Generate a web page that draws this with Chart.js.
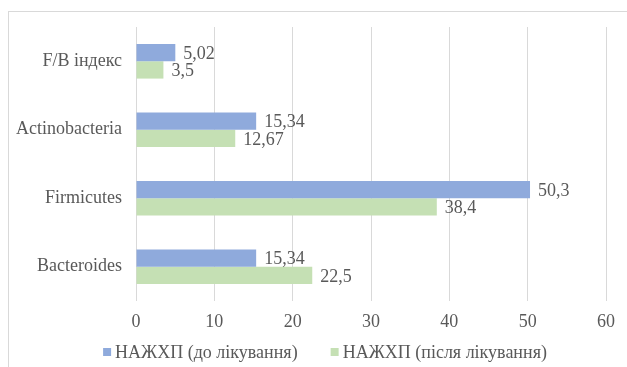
<!DOCTYPE html>
<html>
<head>
<meta charset="utf-8">
<script src="https://cdn.jsdelivr.net/npm/chart.js@4/dist/chart.umd.min.js"></script>
<style>
  html, body { margin: 0; padding: 0; background: #fff; }
  #wrap { position: relative; width: 627px; height: 367px; overflow: hidden; }
  #frame { position: absolute; left: 8px; top: 11px; width: 640px; height: 380px; border: 1px solid #d9d9d9; }
  canvas { position: absolute; left: 0; top: 0; }
</style>
</head>
<body>
<div id="wrap">
  <div id="frame"></div>
  <canvas id="chart" width="627" height="367"></canvas>
</div>
<script>
// Chart data
const categories = ["F/B індекс", "Actinobacteria", "Firmicutes", "Bacteroides"];
const beforeLabel = "НАЖХП (до лікування)";
const afterLabel = "НАЖХП (після лікування)";
const beforeValues = [5.02, 15.34, 50.3, 15.34];
const afterValues = [3.5, 12.67, 38.4, 22.5];
const xTicks = [0, 10, 20, 30, 40, 50, 60];

const FONT = "'Liberation Serif', 'Times New Roman', serif";
const TEXT = "#595959";

// draws value labels right of each bar, with comma decimals
const valueLabels = {
  id: "valueLabels",
  afterDatasetsDraw(chart) {
    const ctx = chart.ctx;
    ctx.save();
    ctx.font = "18px " + FONT;
    ctx.fillStyle = TEXT;
    ctx.textAlign = "left";
    ctx.textBaseline = "middle";
    chart.data.datasets.forEach((ds, i) => {
      chart.getDatasetMeta(i).data.forEach((bar, j) => {
        const txt = String(ds.data[j]).replace(".", ",");
        ctx.fillText(txt, bar.x + 8, bar.y + 1.5);
      });
    });
    ctx.restore();
  },
};

// excel-like legend at the bottom, centred on the chart frame
const bottomLegend = {
  id: "bottomLegend",
  afterDraw(chart) {
    const ctx = chart.ctx;
    const box = 8, gapText = 4, gapItem = 33;
    const y = chart.height - 15;
    const centre = 325;
    ctx.save();
    ctx.font = "18px " + FONT;
    ctx.textBaseline = "middle";
    ctx.textAlign = "left";
    const items = chart.data.datasets.map((ds) => ({
      text: ds.label,
      color: ds.backgroundColor,
      w: box + gapText + ctx.measureText(ds.label).width,
    }));
    const total = items.reduce((s, it) => s + it.w, 0) + gapItem * (items.length - 1);
    let x = centre - total / 2;
    items.forEach((it) => {
      ctx.fillStyle = it.color;
      ctx.fillRect(x, y - box / 2, box, box);
      ctx.fillStyle = TEXT;
      ctx.fillText(it.text, x + box + gapText, y + 1);
      x += it.w + gapItem;
    });
    ctx.restore();
  },
};

new Chart(document.getElementById("chart").getContext("2d"), {
  type: "bar",
  data: {
    labels: categories,
    datasets: [
      {
        label: beforeLabel,
        data: beforeValues,
        backgroundColor: "#8faadc",
        categoryPercentage: 0.506,
        barPercentage: 1.0,
      },
      {
        label: afterLabel,
        data: afterValues,
        backgroundColor: "#c5e0b4",
        categoryPercentage: 0.506,
        barPercentage: 1.0,
      },
    ],
  },
  options: {
    indexAxis: "y",
    responsive: false,
    animation: false,
    layout: { padding: { top: 27, right: 21, bottom: 35, left: 0 } },
    plugins: {
      legend: { display: false },
      tooltip: { enabled: false },
    },
    scales: {
      x: {
        min: 0,
        max: 60,
        afterBuildTicks: (scale) => {
          scale.ticks = xTicks.map((v) => ({ value: v }));
        },
        afterFit: (scale) => {
          scale.height = 31;
        },
        grid: { color: "#d9d9d9", drawTicks: false },
        border: { display: false },
        ticks: {
          font: { family: FONT, size: 18 },
          color: TEXT,
          padding: 10,
        },
      },
      y: {
        afterFit: (scale) => {
          scale.width = 136;
        },
        grid: { display: false, drawTicks: false },
        border: { display: false },
        ticks: {
          font: { family: FONT, size: 18 },
          color: TEXT,
          padding: 14,
        },
      },
    },
  },
  plugins: [valueLabels, bottomLegend],
});
</script>
</body>
</html>
